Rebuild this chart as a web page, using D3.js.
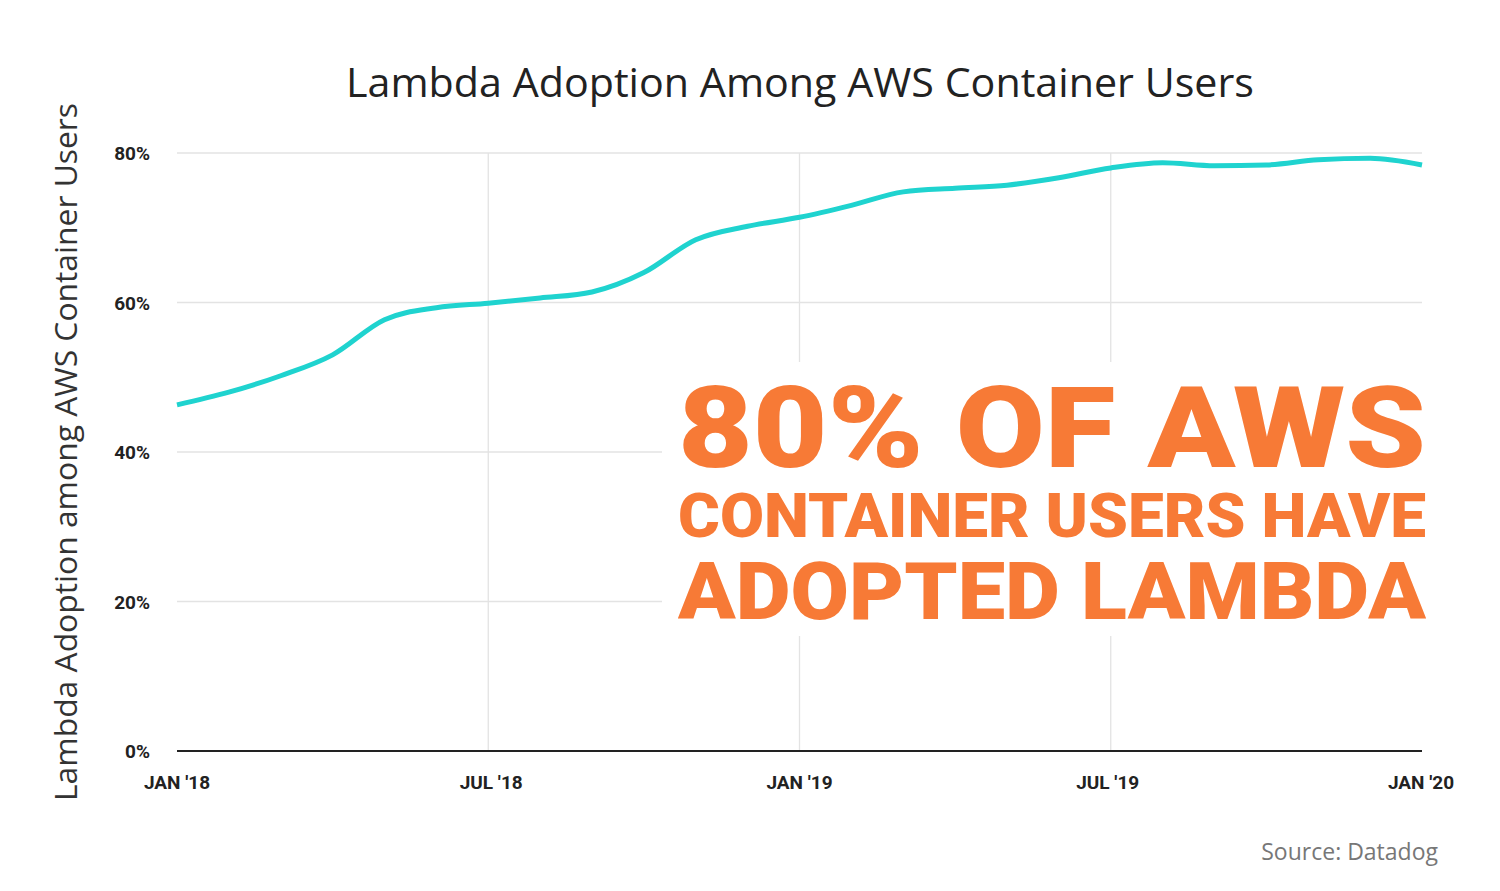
<!DOCTYPE html>
<html><head><meta charset="utf-8">
<script src="https://cdn.jsdelivr.net/npm/d3@7"></script>
<style>body{margin:0;background:#fff}svg{display:block}</style></head>
<body><svg id="c" width="1500" height="891"></svg>
<script>
const months = d3.range(25);
const values = [46.3,48,50.2,53,57.7,59.3,59.9,60.6,61.4,64,68.4,70.2,71.4,73,74.8,75.3,75.7,76.7,78,78.7,78.3,78.4,79.1,79.3,78.4];
const yTicks = [0,20,40,60,80];
const xTicks = [0,6,12,18,24];
const xTickLabels = ["JAN '18","JUL '18","JAN '19","JUL '19","JAN '20"];
const headline = ["80% OF AWS","CONTAINER USERS HAVE","ADOPTED LAMBDA"];

const svg = d3.select("#c");
const x = d3.scaleLinear().domain([0,24]).range([177,1422]);
const y = d3.scaleLinear().domain([0,80]).range([751,153]);
const F = "'Open Sans', sans-serif";

svg.append("g").selectAll("line").data(yTicks.slice(1)).join("line")
  .attr("x1",177).attr("x2",1422).attr("y1",d=>y(d)).attr("y2",d=>y(d))
  .attr("stroke","#e3e3e3").attr("stroke-width",1.3);
svg.append("g").selectAll("line").data(xTicks.slice(1,4)).join("line")
  .attr("x1",d=>x(d)).attr("x2",d=>x(d)).attr("y1",153).attr("y2",751)
  .attr("stroke","#e3e3e3").attr("stroke-width",1.3);
svg.append("rect").attr("x",662).attr("y",362).attr("width",780).attr("height",274).attr("fill","#fff");

svg.append("line").attr("x1",177).attr("x2",1422).attr("y1",y(0)).attr("y2",y(0)).attr("stroke","#222").attr("stroke-width",2);

svg.append("g").selectAll("text").data(yTicks).join("text")
  .attr("x",150).attr("y",d=>y(d)+7).attr("text-anchor","end")
  .attr("font-family","Roboto").attr("font-weight",700).attr("font-size",19).attr("fill","#222")
  .text(d=>d+"%");
svg.append("g").selectAll("text").data(xTicks).join("text")
  .attr("x",(d,i)=>x(d)+[0,3,0,-3,-1][i]).attr("y",789).attr("text-anchor","middle")
  .attr("font-family","Roboto").attr("font-weight",700).attr("font-size",19).attr("fill","#222")
  .text((d,i)=>xTickLabels[i]);

svg.append("path").datum(values.map((v,i)=>[months[i],v]))
  .attr("d", d3.line().x(d=>x(d[0])).y(d=>y(d[1])).curve(d3.curveMonotoneX))
  .attr("fill","none").attr("stroke","#1fd3cf").attr("stroke-width",5);

svg.append("text").attr("x",800).attr("y",97).attr("text-anchor","middle")
  .attr("font-family",F).attr("font-size",41).attr("fill","#222")
  .attr("textLength",908).attr("lengthAdjust","spacingAndGlyphs")
  .text("Lambda Adoption Among AWS Container Users");
svg.append("text").attr("transform","translate(77,452) rotate(-90)").attr("text-anchor","middle")
  .attr("font-family",F).attr("font-size",31).attr("fill","#333")
  .attr("textLength",698).attr("lengthAdjust","spacingAndGlyphs")
  .text("Lambda Adoption among AWS Container Users");
svg.append("text").attr("x",1438).attr("y",860).attr("text-anchor","end")
  .attr("font-family",F).attr("font-size",23).attr("fill","#777").text("Source: Datadog");

const hl = [[467,114],[537,62],[619,80]];
svg.append("g").selectAll("text").data(headline).join("text")
  .attr("x",678).attr("y",(d,i)=>hl[i][0]).attr("font-size",(d,i)=>hl[i][1])
  .attr("font-family","Roboto").attr("font-weight",900).attr("fill","#f77a36")
  .attr("textLength",748).attr("lengthAdjust","spacingAndGlyphs").text(d=>d);
</script></body></html>
